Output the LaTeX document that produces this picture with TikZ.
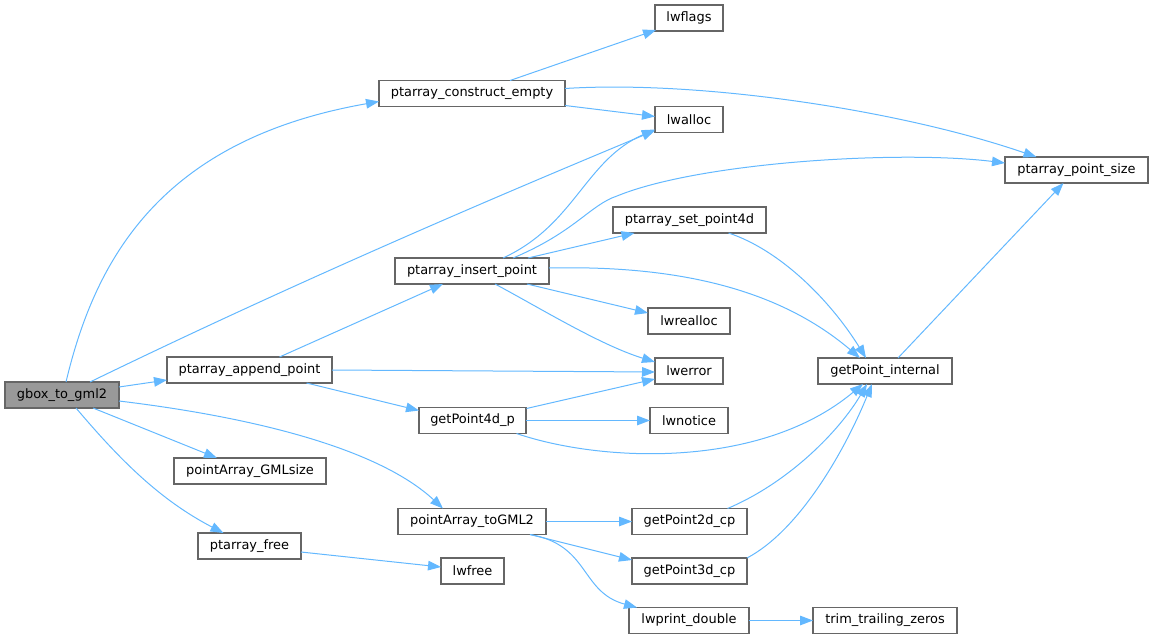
\documentclass[tikz,border=0pt]{standalone}
\usepackage{fontspec}
\setmainfont{DejaVu Sans}
\usetikzlibrary{arrows.meta,calc}
\definecolor{edgeblue}{HTML}{63B8FF}
\definecolor{boxborder}{HTML}{666666}
\definecolor{rootfill}{HTML}{999999}
\begin{document}
\begin{tikzpicture}[x=0.75pt,y=-0.75pt,
  fn/.style={draw=boxborder,line width=0.9pt,fill=white,inner sep=0pt,
    minimum height=26*0.75pt,font=\fontsize{9.7}{11}\selectfont},
  rootfn/.style={fn,fill=rootfill},
  call/.style={draw=edgeblue,line width=0.75pt,-{Triangle[length=9.75pt,width=7.2pt]}}]
\useasboundingbox (0,0) rectangle (1153,639);
% nodes
\node[rootfn,minimum width=114*0.75pt] (gbox) at (62,395) {gbox\_to\_gml2};
\node[fn,minimum width=165*0.75pt] (append) at (249.5,370) {ptarray\_append\_point};
\node[fn,minimum width=152*0.75pt] (gmlsize) at (250,471) {pointArray\_GMLsize};
\node[fn,minimum width=103*0.75pt] (free) at (249.5,546) {ptarray\_free};
\node[fn,minimum width=186*0.75pt] (construct) at (472,93.5) {ptarray\_construct\_empty};
\node[fn,minimum width=68*0.75pt] (lwflags) at (689,18) {lwflags};
\node[fn,minimum width=68*0.75pt] (lwalloc) at (689,119.5) {lwalloc};
\node[fn,minimum width=153*0.75pt] (setpt) at (689.5,220) {ptarray\_set\_point4d};
\node[fn,minimum width=154*0.75pt] (insert) at (472,271) {ptarray\_insert\_point};
\node[fn,minimum width=82*0.75pt] (lwrealloc) at (689,321) {lwrealloc};
\node[fn,minimum width=68*0.75pt] (lwerror) at (689,371) {lwerror};
\node[fn,minimum width=107*0.75pt] (gp4d) at (472.5,420.5) {getPoint4d\_p};
\node[fn,minimum width=78*0.75pt] (lwnotice) at (689,420.5) {lwnotice};
\node[fn,minimum width=148*0.75pt] (togml2) at (472,521.5) {pointArray\_toGML2};
\node[fn,minimum width=115*0.75pt] (gp2d) at (689.5,521.5) {getPoint2d\_cp};
\node[fn,minimum width=63*0.75pt] (lwfree) at (472.5,571) {lwfree};
\node[fn,minimum width=115*0.75pt] (gp3d) at (689.5,571) {getPoint3d\_cp};
\node[fn,minimum width=120*0.75pt] (lwprint) at (689,620.5) {lwprint\_double};
\node[fn,minimum width=143*0.75pt] (psize) at (1076.5,170) {ptarray\_point\_size};
\node[fn,minimum width=134*0.75pt] (gpint) at (885,371) {getPoint\_internal};
\node[fn,minimum width=144*0.75pt] (trim) at (885,620.5) {trim\_trailing\_zeros};
% edges
\draw[call] ($(gbox)+(4,-13)$) .. controls (95,260) and (160,140) .. ($(construct)+(-93,8)$);
\draw[call] ($(gbox)+(28,-13)$) .. controls (300,280) and (500,195) .. ($(lwalloc)+(-34,11)$);
\draw[call] ($(gbox)+(57,-8)$) -- ($(append)+(-82.5,10)$);
\draw[call] ($(gbox)+(31,13)$) -- ($(gmlsize)+(-33,-13)$);
\draw[call] ($(gbox)+(14,13)$) .. controls (120,460) and (160,500) .. ($(free)+(-26,-13)$);
\draw[call] ($(gbox)+(57,6)$) .. controls (260,418) and (380,450) .. ($(togml2)+(-29,-13)$);
\draw[call] ($(append)+(30,-13)$) -- ($(insert)+(-29,13)$);
\draw[call] ($(append)+(82.5,0)$) -- ($(lwerror)+(-34,1)$);
\draw[call] ($(append)+(57,13)$) -- ($(gp4d)+(-53.5,-10)$);
\draw[call] ($(construct)+(38,-13)$) -- ($(lwflags)+(-33,12)$);
\draw[call] ($(construct)+(93,12)$) -- ($(lwalloc)+(-34,-3)$);
\draw[call] ($(construct)+(93,-5)$) .. controls (700,80) and (900,110) .. ($(psize)+(-40,-13)$);
\draw[call] ($(insert)+(31,-13)$) .. controls (575,225) and (585,160) .. ($(lwalloc)+(-34,10)$);
\draw[call] ($(insert)+(41,-13)$) .. controls (575,232) and (590,205) .. (617,196) .. controls (700,162) and (900,150) .. ($(psize)+(-71.5,-7)$);
\draw[call] ($(insert)+(56,-13)$) -- ($(setpt)+(-55,13)$);
\draw[call] ($(insert)+(77,-3)$) .. controls (680,265) and (780,290) .. ($(gpint)+(-25,-13)$);
\draw[call] ($(insert)+(55,13)$) -- ($(lwrealloc)+(-41,-8)$);
\draw[call] ($(insert)+(23,13)$) .. controls (540,308) and (600,345) .. ($(lwerror)+(-34,-9)$);
\draw[call] ($(setpt)+(39,13)$) .. controls (780,250) and (830,300) .. ($(gpint)+(-19,-13)$);
\draw[call] ($(gp4d)+(54,-12)$) -- ($(lwerror)+(-34,8)$);
\draw[call] ($(gp4d)+(53.5,0)$) -- ($(lwnotice)+(-39,0)$);
\draw[call] ($(gp4d)+(44,13)$) .. controls (600,462) and (760,470) .. ($(gpint)+(-22,13)$);
\draw[call] ($(gpint)+(13,-13)$) -- ($(psize)+(-13,13)$);
\draw[call] ($(free)+(51.5,6)$) -- ($(lwfree)+(-31.5,-4)$);
\draw[call] ($(togml2)+(74,0)$) -- ($(gp2d)+(-57.5,0)$);
\draw[call] ($(togml2)+(58,13)$) -- ($(gp3d)+(-57.5,-11)$);
\draw[call] ($(togml2)+(58,13)$) .. controls (590,545) and (580,592) .. ($(lwprint)+(-52,-13)$);
\draw[call] ($(gp2d)+(38,-13)$) .. controls (790,482) and (840,430) .. ($(gpint)+(-18,13)$);
\draw[call] ($(gp3d)+(57.5,-13)$) .. controls (800,530) and (845,450) .. ($(gpint)+(-13,13)$);
\draw[call] ($(lwprint)+(60,0)$) -- ($(trim)+(-72,0)$);
\end{tikzpicture}
\end{document}
